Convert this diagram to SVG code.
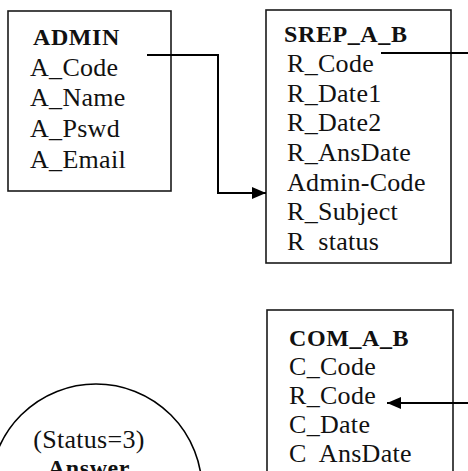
<svg xmlns="http://www.w3.org/2000/svg" width="468" height="471" viewBox="0 0 468 471">
  <style>
    .box { fill: #ffffff; stroke: #1a1a1a; stroke-width: 1.6; }
    .title { font-family: "Liberation Serif", "Times New Roman", serif; font-size: 24px; font-weight: bold; fill: #111; letter-spacing: 0.6px; }
    .field { font-family: "Liberation Serif", "Times New Roman", serif; font-size: 26px; fill: #111; letter-spacing: 0.3px; white-space: pre; }
    .link { fill: none; stroke: #000; stroke-width: 2; }
  </style>
  <defs>
    <marker id="arrow" markerWidth="14" markerHeight="12" refX="14" refY="6" orient="auto" markerUnits="userSpaceOnUse">
      <path d="M0,0 L14,6 L0,12 Z" fill="#000"/>
    </marker>
  </defs>
  <rect width="468" height="471" fill="#ffffff"/>

  <g id="admin">
    <rect class="box" x="8" y="11" width="163" height="180"/>
    <text class="title" x="33" y="45">ADMIN</text>
    <text class="field" x="30" y="76">A_Code</text>
    <text class="field" x="30" y="106">A_Name</text>
    <text class="field" x="30" y="137">A_Pswd</text>
    <text class="field" x="30" y="168">A_Email</text>
  </g>

  <g id="srep_a_b">
    <rect class="box" x="266" y="10" width="185" height="253"/>
    <text class="title" x="284" y="42">SREP_A_B</text>
    <text class="field" x="287" y="72">R_Code</text>
    <text class="field" x="287" y="102">R_Date1</text>
    <text class="field" x="287" y="131">R_Date2</text>
    <text class="field" x="287" y="161">R_AnsDate</text>
    <text class="field" x="287" y="191">Admin-Code</text>
    <text class="field" x="287" y="220">R_Subject</text>
    <text class="field" x="287" y="250" xml:space="preserve">R  status</text>
  </g>

  <g id="com_a_b">
    <rect class="box" x="267" y="310" width="186" height="180"/>
    <text class="title" x="289" y="346">COM_A_B</text>
    <text class="field" x="289" y="375">C_Code</text>
    <text class="field" x="289" y="404">R_Code</text>
    <text class="field" x="289" y="433">C_Date</text>
    <text class="field" x="289" y="462" xml:space="preserve">C  AnsDate</text>
  </g>

  <g id="answer">
    <circle cx="96" cy="490" r="106" fill="none" stroke="#000" stroke-width="1.6"/>
    <text class="field" x="89" y="448" text-anchor="middle">(Status=3)</text>
    <text class="title" x="89" y="476" text-anchor="middle">Answer</text>
  </g>

  <g id="connectors">
    <path class="link" d="M147,55 H218 V193 H266" marker-end="url(#arrow)"/>
    <path class="link" d="M381,53 H468"/>
    <path class="link" d="M468,403 H387" marker-end="url(#arrow)"/>
  </g>
</svg>
